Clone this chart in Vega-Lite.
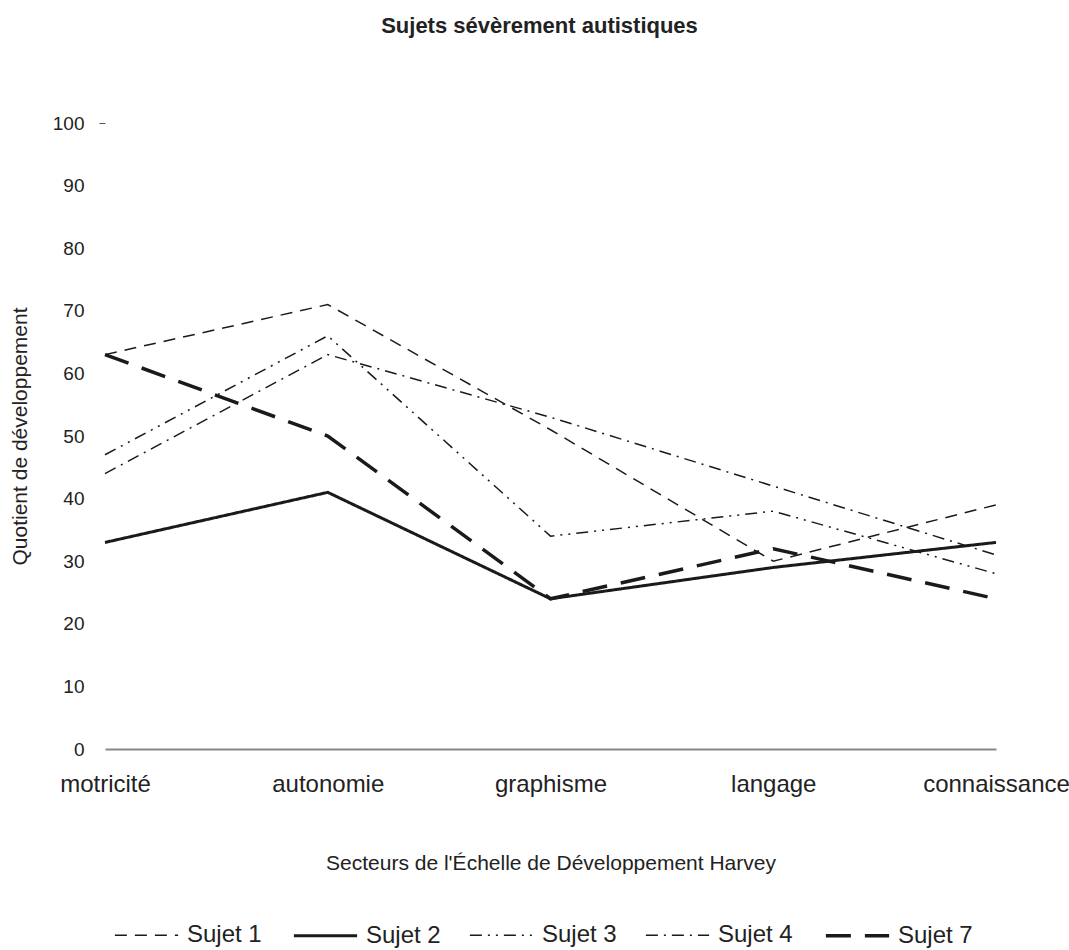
{
  "$schema": "https://vega.github.io/schema/vega-lite/v6.json",
  "width": 891,
  "height": 626,
  "autosize": {"type": "none"},
  "padding": {"left": 105, "top": 123, "right": 73, "bottom": 201},
  "background": "white",
  "config": {"view": {"stroke": null}},
  "title": {
    "text": "Sujets sévèrement autistiques",
    "font": "Liberation Sans",
    "fontSize": 22,
    "fontWeight": "bold",
    "color": "#222222",
    "anchor": "middle",
    "frame": "group",
    "baseline": "alphabetic",
    "offset": 59,
    "dx": -11
  },
  "data": {
    "values": [
      {"secteur": "motricité", "sujet": "Sujet 1", "qd": 63},
      {"secteur": "autonomie", "sujet": "Sujet 1", "qd": 71},
      {"secteur": "graphisme", "sujet": "Sujet 1", "qd": 51},
      {"secteur": "langage", "sujet": "Sujet 1", "qd": 30},
      {"secteur": "connaissance", "sujet": "Sujet 1", "qd": 39},
      {"secteur": "motricité", "sujet": "Sujet 2", "qd": 33},
      {"secteur": "autonomie", "sujet": "Sujet 2", "qd": 41},
      {"secteur": "graphisme", "sujet": "Sujet 2", "qd": 24},
      {"secteur": "langage", "sujet": "Sujet 2", "qd": 29},
      {"secteur": "connaissance", "sujet": "Sujet 2", "qd": 33},
      {"secteur": "motricité", "sujet": "Sujet 3", "qd": 47},
      {"secteur": "autonomie", "sujet": "Sujet 3", "qd": 66},
      {"secteur": "graphisme", "sujet": "Sujet 3", "qd": 34},
      {"secteur": "langage", "sujet": "Sujet 3", "qd": 38},
      {"secteur": "connaissance", "sujet": "Sujet 3", "qd": 28},
      {"secteur": "motricité", "sujet": "Sujet 4", "qd": 44},
      {"secteur": "autonomie", "sujet": "Sujet 4", "qd": 63},
      {"secteur": "graphisme", "sujet": "Sujet 4", "qd": 53},
      {"secteur": "langage", "sujet": "Sujet 4", "qd": 42},
      {"secteur": "connaissance", "sujet": "Sujet 4", "qd": 31},
      {"secteur": "motricité", "sujet": "Sujet 7", "qd": 63},
      {"secteur": "autonomie", "sujet": "Sujet 7", "qd": 50},
      {"secteur": "graphisme", "sujet": "Sujet 7", "qd": 24},
      {"secteur": "langage", "sujet": "Sujet 7", "qd": 32},
      {"secteur": "connaissance", "sujet": "Sujet 7", "qd": 24}
    ]
  },
  "mark": {"type": "line", "color": "#1a1a1a", "strokeCap": "butt", "strokeJoin": "miter"},
  "encoding": {
    "x": {
      "field": "secteur",
      "type": "ordinal",
      "sort": ["motricité", "autonomie", "graphisme", "langage", "connaissance"],
      "scale": {"type": "point", "padding": 0},
      "axis": {
        "title": "Secteurs de l'Échelle de Développement Harvey",
        "titleFont": "Liberation Sans",
        "titleFontSize": 21,
        "titleFontWeight": "normal",
        "titleColor": "#222222",
        "titleY": 120,
        "titleBaseline": "alphabetic",
        "labelAngle": 0,
        "labelFont": "Liberation Sans",
        "labelFontSize": 24,
        "labelColor": "#222222",
        "labelPadding": 23,
        "ticks": false,
        "domain": true,
        "domainColor": "#888888",
        "domainWidth": 2,
        "grid": false
      }
    },
    "y": {
      "field": "qd",
      "type": "quantitative",
      "scale": {"domain": [0, 100]},
      "axis": {
        "values": [0, 10, 20, 30, 40, 50, 60, 70, 80, 90, 100],
        "title": "Quotient de développement",
        "titleFont": "Liberation Sans",
        "titleFontSize": 21,
        "titleFontWeight": "normal",
        "titleColor": "#222222",
        "titleAngle": -90,
        "titleX": -85,
        "titleY": 313,
        "titleAlign": "center",
        "titleBaseline": "middle",
        "labelFont": "Liberation Sans",
        "labelFontSize": 19,
        "labelColor": "#222222",
        "labelPadding": 15,
        "domain": false,
        "grid": false,
        "ticks": true,
        "tickSize": 6,
        "tickColor": {"condition": {"test": "datum.value === 100", "value": "#555555"}, "value": "transparent"}
      }
    },
    "strokeDash": {
      "field": "sujet",
      "type": "nominal",
      "scale": {
        "domain": ["Sujet 1", "Sujet 2", "Sujet 3", "Sujet 4", "Sujet 7"],
        "range": [[12, 8], [1, 0], [12, 6, 2, 6, 2, 6], [12, 6, 2, 6], [25, 14]]
      },
      "legend": {
        "title": null,
        "orient": "none",
        "legendX": 8,
        "legendY": 779,
        "direction": "horizontal",
        "columns": 5,
        "symbolType": "stroke",
        "symbolSize": 4000,
        "symbolStrokeColor": "#1a1a1a",
        "labelFont": "Liberation Sans",
        "labelFontSize": 24,
        "labelColor": "#222222",
        "labelOffset": 7,
        "columnPadding": 25,
        "padding": 0
      }
    },
    "strokeWidth": {
      "field": "sujet",
      "type": "nominal",
      "scale": {
        "type": "ordinal",
        "domain": ["Sujet 1", "Sujet 2", "Sujet 3", "Sujet 4", "Sujet 7"],
        "range": [1.5, 3, 1.5, 1.5, 3.5]
      },
      "legend": {
        "title": null,
        "orient": "none",
        "legendX": 8,
        "legendY": 779,
        "direction": "horizontal",
        "columns": 5,
        "symbolType": "stroke",
        "symbolSize": 4000,
        "symbolStrokeColor": "#1a1a1a",
        "labelFont": "Liberation Sans",
        "labelFontSize": 24,
        "labelColor": "#222222",
        "labelOffset": 7,
        "columnPadding": 25,
        "padding": 0
      }
    }
  }
}
